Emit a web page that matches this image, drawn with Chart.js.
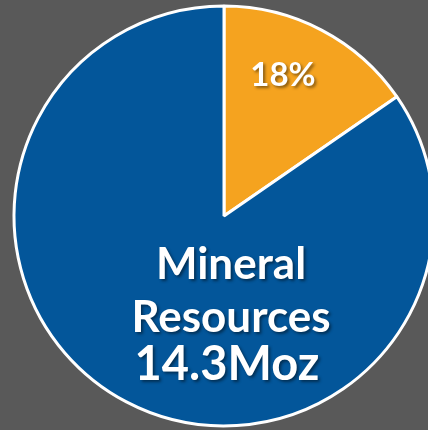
<!DOCTYPE html>
<html>
<head>
<meta charset="utf-8">
<script src="https://cdn.jsdelivr.net/npm/chart.js"></script>
<style>
  html, body { margin: 0; padding: 0; background: #595959; overflow: hidden; }
  .wrap { position: absolute; left: 0; top: 0; width: 448px; height: 432px; }
</style>
</head>
<body>
<div class="wrap"><canvas id="pie"></canvas></div>
<script>
// values in Moz
let labels = ['Other', 'Mineral Resources']
let values = [2.6, 14.3]
let colors = ['#F5A31F', '#03569A']
let resourceName = ['Mineral', 'Resources']
let resourceTotal = '14.3Moz'

let pct = Math.round(values[0] / values[1] * 100) + '%'

// text labels drawn on top of the slices
let textPlugin = {
    id: 'sliceText',
    afterDraw(chart) {
        let ctx = chart.ctx
        let arc = chart.getDatasetMeta(0).data[0]
        let cx = arc.x
        let cy = arc.y
        ctx.save()
        ctx.fillStyle = '#ffffff'
        ctx.textAlign = 'center'
        ctx.textBaseline = 'middle'
        ctx.shadowColor = 'rgba(0,0,0,0.45)'
        ctx.shadowOffsetX = 2
        ctx.shadowOffsetY = 2
        ctx.shadowBlur = 3

        ctx.font = 'bold 33px Lato'
        ctx.fillText(pct, cx + 59, cy - 141)

        ctx.font = 'bold 44px Lato'
        ctx.fillText(resourceName[0], cx + 7, cy + 49)
        ctx.fillText(resourceName[1], cx + 7, cy + 102)

        ctx.font = 'bold 47px Lato'
        ctx.fillText(resourceTotal, cx + 3, cy + 149)
        ctx.restore()
    }
}

let ctx = document.getElementById('pie').getContext('2d')

let myPie = new Chart(ctx, {
    type: 'pie',
    data: {
        labels: labels,
        datasets: [{
            data: values,
            backgroundColor: colors,
            borderColor: '#ffffff',
            borderWidth: 3
        }]
    },
    options: {
        responsive: true,
        maintainAspectRatio: false,
        animation: false,
        radius: 210,
        plugins: {
            legend: { display: false },
            tooltip: { enabled: false }
        }
    },
    plugins: [textPlugin]
})
</script>
</body>
</html>
